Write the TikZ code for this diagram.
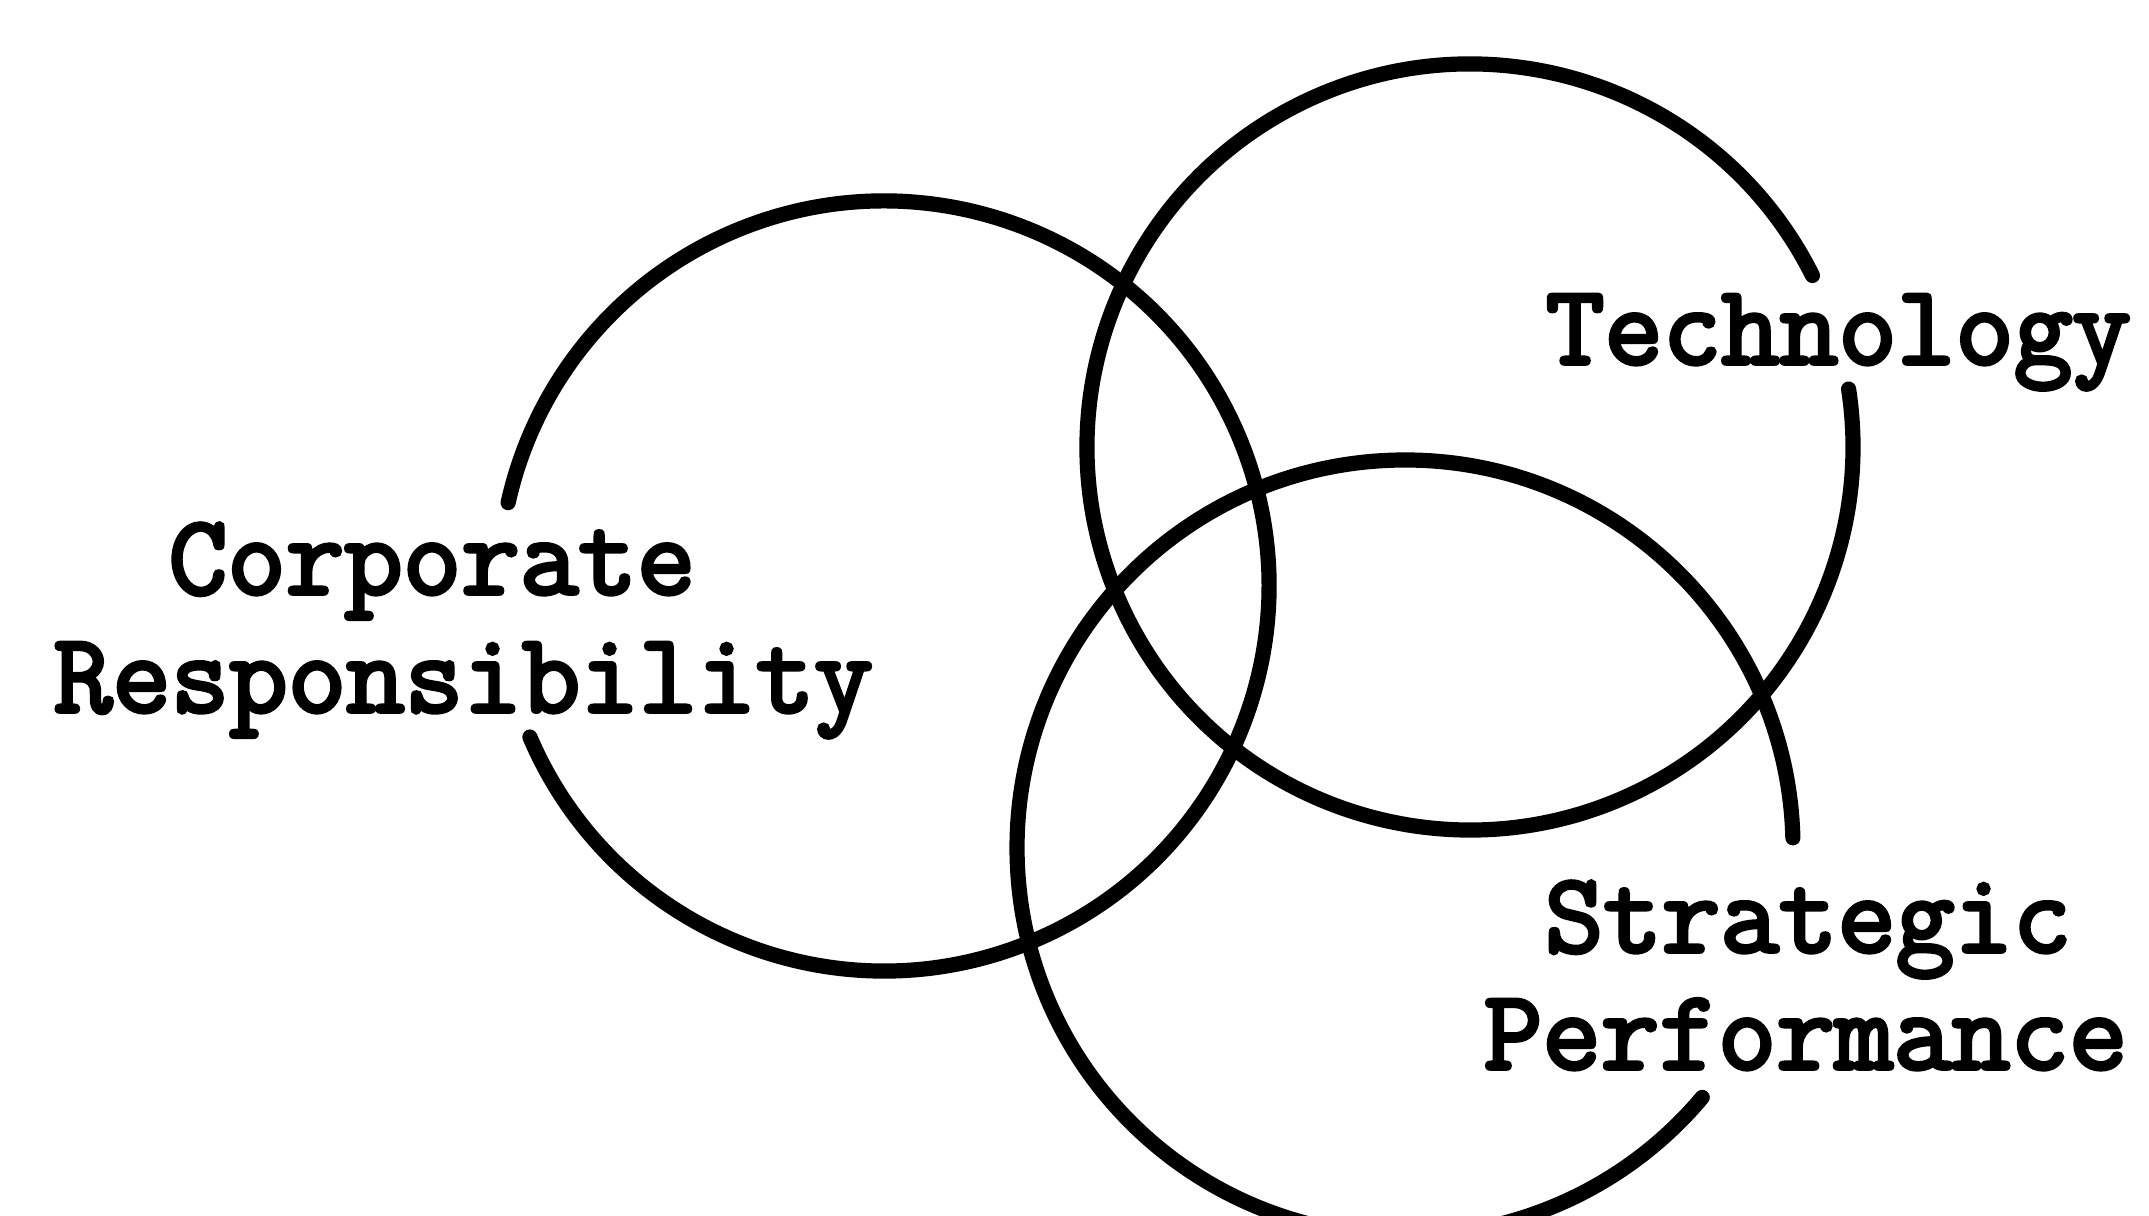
\documentclass[tikz,border=0pt]{standalone}
\usepackage{fontspec}
\newfontfamily\typefont{Latin Modern Mono}[FakeBold=3.5]
\begin{document}
\begin{tikzpicture}[x=0.25pt,y=0.25pt,
  every node/.style={font=\typefont\fontsize{28.4}{29.5}\selectfont,inner sep=0pt,anchor=base west},
  ring/.style={line width=3.8pt,line cap=round}]
\useasboundingbox (0,0) rectangle (2149,1216);
% centres of the three rings
\coordinate (corpc) at (884,630);
\coordinate (techc) at (1470,769);
\coordinate (stratc) at (1405,368);
% rings, each left open where its name is typed
\draw[ring] ([shift={(-156.9:385)}]corpc) arc[start angle=-156.9,end angle=167.5,radius=385];
\draw[ring] ([shift={(26.6:383)}]techc) arc[start angle=26.6,end angle=368.7,radius=383];
\draw[ring] ([shift={(1.5:388)}]stratc) arc[start angle=1.5,end angle=320,radius=388];
% names
\node (corp1) at (168,622) {Corporate};
\node (corp2) at (53,504) {Responsibility};
\node (tech) at (1545,852) {Technology};
\node (strat1) at (1544,264) {Strategic};
\node (strat2) at (1483,147) {Performance};
\end{tikzpicture}
\end{document}
